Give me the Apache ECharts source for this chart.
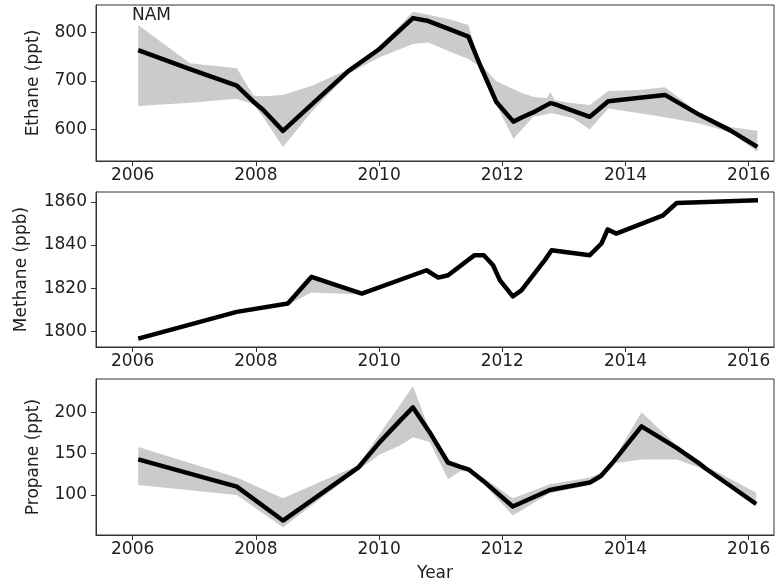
<!DOCTYPE html>
<html>
<head>
<meta charset="utf-8">
<script src="https://cdn.jsdelivr.net/npm/echarts@6/dist/echarts.min.js"></script>
<style>
  html, body { margin: 0; padding: 0; background: #fff; }
  #chart { width: 776px; height: 587px; }
</style>
</head>
<body>
<div id="chart"></div>
<script>
// Ethane (ppt): decimal year, mean, lower and upper bound of the shaded range
const ethaneYears = [2006.09, 2006.93, 2007.69, 2007.96, 2008.12, 2008.44, 2008.93, 2009.5, 2010.0, 2010.55, 2010.80, 2011.15, 2011.45, 2011.64, 2011.9, 2012.18, 2012.34, 2012.5, 2012.72, 2012.78, 2012.85, 2013.15, 2013.42, 2013.72, 2014.23, 2014.64, 2015.2, 2015.7, 2016.14];
const ethaneMean  = [763, 724, 690, 657, 640, 597, 654, 720, 765, 829, 823, 806, 791, 732, 657, 616, 626, 635, 650, 654, 652, 638, 626, 658, 665, 671, 630, 598, 564];
const ethaneLow   = [648, 655, 663, 652, 625, 564, 640, 714, 748, 776, 779, 760, 745, 729, 652, 581, 603, 626, 631, 633, 632, 623, 600, 643, 633, 625, 612, 594, 554];
const ethaneHigh  = [815, 736, 726, 670, 668, 671, 691, 724, 769, 842, 836, 826, 815, 735, 699, 683, 674, 667, 664, 677, 660, 654, 650, 679, 681, 687, 633, 605, 597];

// Methane (ppb)
const methaneYears = [2006.09, 2007.69, 2008.52, 2008.9, 2009.72, 2010.77, 2010.96, 2011.12, 2011.55, 2011.70, 2011.85, 2011.96, 2012.17, 2012.31, 2012.69, 2012.8, 2013.42, 2013.61, 2013.71, 2013.85, 2014.61, 2014.83, 2016.15];
const methaneMean  = [1796.6, 1809.0, 1812.9, 1825.2, 1817.5, 1828.3, 1824.9, 1826.0, 1835.3, 1835.3, 1830.6, 1823.7, 1816.2, 1819.0, 1833.0, 1837.6, 1835.3, 1840.7, 1847.2, 1845.3, 1853.8, 1859.5, 1860.8];
const methaneLow   = [1796.0, 1808.4, 1812.3, 1818.0, 1817.0, 1827.5, 1824.2, 1825.4, 1834.7, 1834.7, 1830.0, 1823.1, 1815.6, 1818.4, 1832.3, 1836.8, 1834.7, 1840.1, 1846.4, 1844.7, 1853.2, 1858.9, 1860.2];
const methaneHigh  = [1797.2, 1809.6, 1813.5, 1826.6, 1818.1, 1829.1, 1826.0, 1826.8, 1836.0, 1836.0, 1831.2, 1824.3, 1816.8, 1819.6, 1833.7, 1838.6, 1835.9, 1841.3, 1848.8, 1845.9, 1854.4, 1860.1, 1861.4];

// Propane (ppt)
const propaneYears = [2006.09, 2007.69, 2008.44, 2009.66, 2010.01, 2010.34, 2010.55, 2010.82, 2011.12, 2011.32, 2011.45, 2011.69, 2012.17, 2012.77, 2013.42, 2013.6, 2013.8, 2014.26, 2014.83, 2015.2, 2015.3, 2016.12];
const propaneMean  = [143, 110, 69, 133, 164, 190, 206, 176, 139, 134, 131, 117, 86, 106, 115, 123, 140, 183, 157, 138, 132, 89];
const propaneLow   = [112, 100, 61, 130, 149, 160, 170, 164, 119, 129, 128, 114, 75, 102, 112, 120, 138, 143, 143, 133, 129, 87];
const propaneHigh  = [158, 121, 96, 136, 174, 209, 232, 178, 143, 137, 133, 121, 96, 113, 121, 127, 142, 200, 160, 141, 135, 103];

const yearTicks = [2006, 2008, 2010, 2012, 2014, 2016];
const ethaneTicks = [600, 700, 800];
const methaneTicks = [1800, 1820, 1840, 1860];
const propaneTicks = [100, 150, 200];

const TEXT = '#1e1e1e';
const FONT = 'DejaVu Sans';
const FS = 17;

const panels = [
  { top: 5,   height: 156, ymin: 535,    ymax: 856,    ticks: ethaneTicks,  name: 'Ethane (ppt)',  gap: 54, years: ethaneYears,  mean: ethaneMean,  low: ethaneLow,  high: ethaneHigh },
  { top: 192, height: 155, ymin: 1792.7, ymax: 1864.6, ticks: methaneTicks, name: 'Methane (ppb)', gap: 66, years: methaneYears, mean: methaneMean, low: methaneLow, high: methaneHigh },
  { top: 379, height: 156, ymin: 51.5,   ymax: 240.4,  ticks: propaneTicks, name: 'Propane (ppt)', gap: 54, years: propaneYears, mean: propaneMean, low: propaneLow, high: propaneHigh }
];

const grid = [], xAxis = [], yAxis = [], series = [];

panels.forEach((p, i) => {
  grid.push({
    left: 96, right: 2, top: p.top, height: p.height,
    show: true, borderColor: '#333', borderWidth: 1, backgroundColor: 'transparent'
  });
  xAxis.push({
    gridIndex: i, type: 'value', min: 2005.405, max: 2016.41,
    name: i === 2 ? 'Year' : '', nameLocation: 'middle', nameGap: 30,
    nameTextStyle: { fontFamily: FONT, fontSize: FS, color: TEXT },
    axisLine: { show: true, lineStyle: { color: '#333', width: 1 } },
    axisTick: { show: true, length: 5, lineStyle: { color: '#333' }, customValues: yearTicks },
    axisLabel: { show: true, margin: 6, fontFamily: FONT, fontSize: FS, color: TEXT, customValues: yearTicks, formatter: v => String(v) },
    splitLine: { show: false }
  });
  yAxis.push({
    gridIndex: i, type: 'value', min: p.ymin, max: p.ymax,
    name: p.name, nameLocation: 'middle', nameGap: p.gap, nameRotate: 90,
    nameTextStyle: { fontFamily: FONT, fontSize: FS, color: TEXT },
    axisLine: { show: true, lineStyle: { color: '#333', width: 1 } },
    axisTick: { show: true, length: 5, lineStyle: { color: '#333' }, customValues: p.ticks },
    axisLabel: { show: true, margin: 9, fontFamily: FONT, fontSize: FS, color: TEXT, customValues: p.ticks, formatter: v => String(v) },
    splitLine: { show: false }
  });

  // shaded range between the lower and upper bounds
  series.push({
    type: 'custom', xAxisIndex: i, yAxisIndex: i, z: 1, silent: true,
    data: p.years.map((x, k) => [x, p.low[k], p.high[k]]),
    renderItem: (params, api) => {
      if (params.dataIndex !== 0) return null;
      const pts = [];
      for (let k = 0; k < p.years.length; k++) pts.push(api.coord([p.years[k], p.high[k]]));
      for (let k = p.years.length - 1; k >= 0; k--) pts.push(api.coord([p.years[k], p.low[k]]));
      return { type: 'polygon', shape: { points: pts }, style: { fill: '#cbcbcb', stroke: null } };
    }
  });

  // mean line
  series.push({
    type: 'line', xAxisIndex: i, yAxisIndex: i, z: 2, symbol: 'none', silent: true,
    data: p.years.map((x, k) => [x, p.mean[k]]),
    lineStyle: { color: '#000', width: 4.5, join: 'round', cap: 'butt' }
  });
});

const chart = echarts.init(document.getElementById('chart'), null, { renderer: 'canvas' });
chart.setOption({
  animation: false,
  backgroundColor: '#fff',
  grid, xAxis, yAxis, series,
  graphic: [{
    type: 'text', left: 132, top: 7,
    style: { text: 'NAM', fontFamily: FONT, fontSize: FS, fill: TEXT }
  }]
});
</script>
</body>
</html>
